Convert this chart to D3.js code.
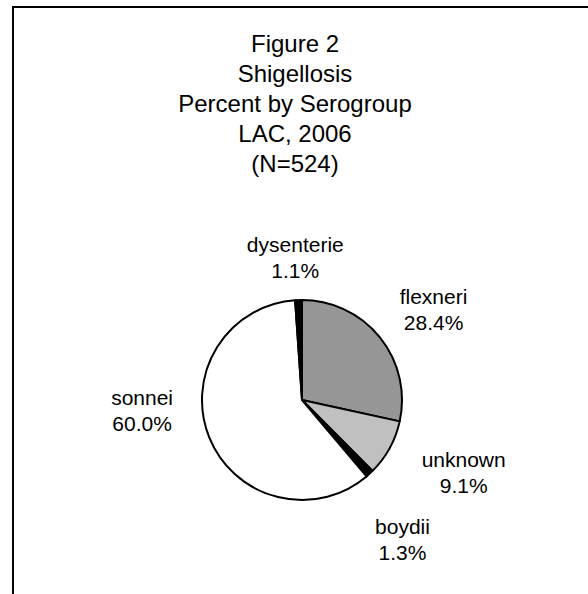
<!DOCTYPE html>
<html>
<head>
<meta charset="utf-8">
<script src="https://cdn.jsdelivr.net/npm/d3@7"></script>
<style>
  html, body { margin: 0; padding: 0; background: #fff; }
  svg { display: block; }
  text { font-family: "Liberation Sans", Arial, sans-serif; fill: #000; }
</style>
</head>
<body>
<svg id="chart" width="588" height="594"></svg>
<script>
// ---- data ----
const titleLines = ["Figure 2", "Shigellosis", "Percent by Serogroup", "LAC, 2006", "(N=524)"];
const categories = ["flexneri", "unknown", "boydii", "sonnei", "dysenterie"];
const percents = [28.4, 9.1, 1.3, 60.0, 1.1];
const sliceColors = ["#969696", "#c0c0c0", "#000000", "#ffffff", "#000000"];
// label nudges from the default label-arc centroid (layout only)
const labelNudges = [[3, 13], [17, -6], [-11, 18], [-7, -51], [-1, 23]];

// ---- layout ----
const W = 588, H = 594;
const cx = 302, cy = 400, R = 100, labelR = 165;
const svg = d3.select("#chart");

// frame (only top and left edges visible in the crop)
svg.append("rect")
  .attr("x", 13).attr("y", 7)
  .attr("width", W + 20).attr("height", H + 20)
  .attr("fill", "none").attr("stroke", "#000").attr("stroke-width", 2);

// title
const title = svg.append("text")
  .attr("text-anchor", "middle")
  .style("font-size", "24px");
titleLines.forEach((t, i) => {
  title.append("tspan").attr("x", 295).attr("y", 52 + i * 30).text(t);
});

// pie
const data = categories.map((c, i) => ({ name: c, value: percents[i], color: sliceColors[i], nudge: labelNudges[i] }));
const pie = d3.pie().value(d => d.value).sort(null).startAngle(0).endAngle(2 * Math.PI);
const arcs = pie(data);
const arc = d3.arc().innerRadius(0).outerRadius(R);
const labelArc = d3.arc().innerRadius(labelR).outerRadius(labelR);

const g = svg.append("g").attr("transform", `translate(${cx},${cy})`);
g.selectAll("path.slice")
  .data(arcs)
  .join("path")
  .attr("class", "slice")
  .attr("d", arc)
  .attr("fill", d => d.data.color)
  .attr("stroke", "#000")
  .attr("stroke-width", 2)
  .attr("stroke-linejoin", "round");

// labels
const fmt = d3.format(".1f");
const lab = g.selectAll("text.lbl")
  .data(arcs)
  .join("text")
  .attr("class", "lbl")
  .attr("text-anchor", "middle")
  .style("font-size", "21px")
  .attr("transform", d => {
    const [x, y] = labelArc.centroid(d);
    return `translate(${x + d.data.nudge[0]},${y + d.data.nudge[1]})`;
  });
lab.append("tspan").attr("x", 0).attr("y", -6).text(d => d.data.name);
lab.append("tspan").attr("x", 0).attr("y", 20).text(d => fmt(d.data.value) + "%");
</script>
</body>
</html>
